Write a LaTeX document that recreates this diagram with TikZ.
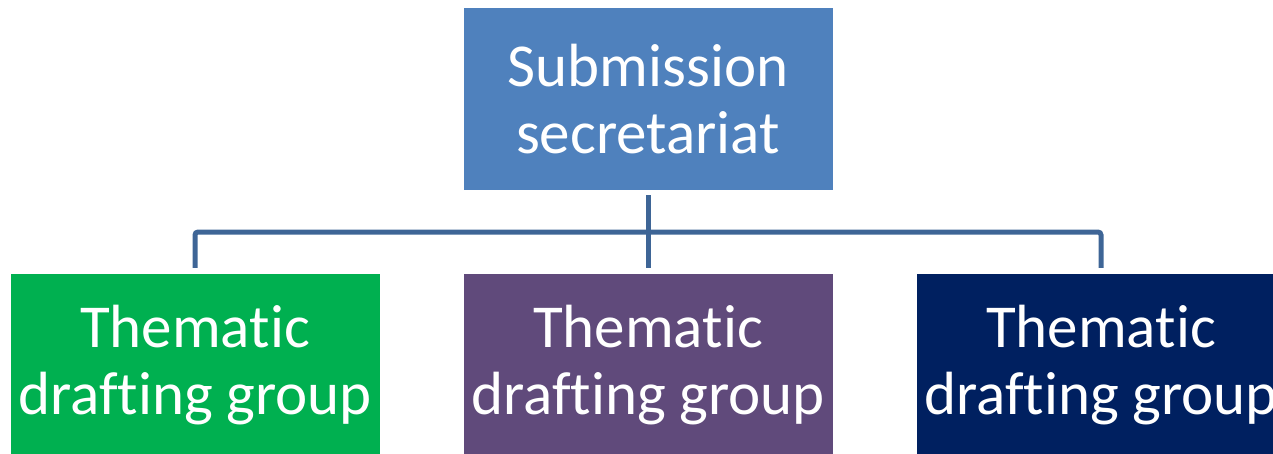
\documentclass[tikz,border=0pt]{standalone}
\usepackage{fontspec}
\setmainfont[Ligatures=NoCommon]{Carlito}
\definecolor{topblue}{RGB}{79,129,189}
\definecolor{grpgreen}{RGB}{0,176,80}
\definecolor{grppurple}{RGB}{96,74,123}
\definecolor{grpnavy}{RGB}{0,32,96}
\definecolor{lineblue}{RGB}{62,101,150}
\begin{document}
\begin{tikzpicture}[x=1pt,y=-1pt,
    box/.style={minimum width=369pt,minimum height=182pt,inner sep=0pt,align=center,
      text=white,font=\fontsize{61}{67}\selectfont},
    conn/.style={draw=lineblue,line width=5pt}]
  \useasboundingbox (0,0) rectangle (1273,453);
  \clip (0,0) rectangle (1273,453);
  \node[box,fill=topblue] (S) at (648,99) {Submission\\secretariat};
  \node[box,fill=grpgreen] (G1) at (195,365) {Thematic\\drafting group};
  \node[box,fill=grppurple] (G2) at (648,365) {Thematic\\drafting group};
  \node[box,fill=grpnavy] (G3) at (1101,365) {Thematic\\drafting group};
  \coordinate (J) at (648,232);

  \draw[conn] ([yshift=-5pt]S.south) -- ([yshift=6pt]G2.north);
  \draw[conn,rounded corners=3pt] (J) -| ([yshift=6pt]G1.north);
  \draw[conn,rounded corners=3pt] (J) -| ([yshift=6pt]G3.north);
\end{tikzpicture}
\end{document}
